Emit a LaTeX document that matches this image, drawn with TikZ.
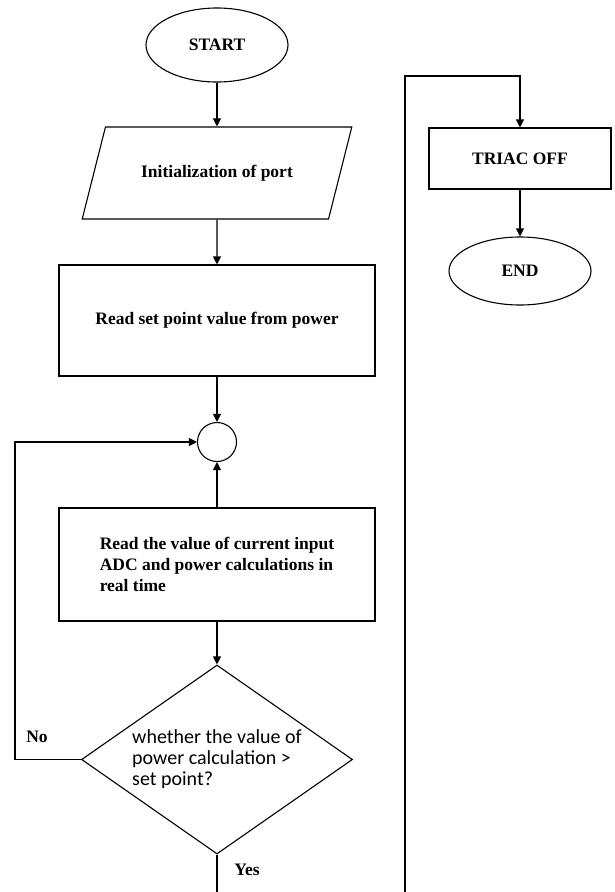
\documentclass[tikz,border=0pt]{standalone}
\usepackage{fontspec}
\setmainfont{Liberation Serif}
\newfontfamily\calibfont{Carlito}
\usepackage{tikz}
\usetikzlibrary{positioning, arrows.meta, shapes.geometric}

\tikzset{
  flowline/.style={line width=1.1pt, -{Triangle[length=8pt, width=8pt]}},
  plainline/.style={line width=1.1pt},
  boldtxt/.style={font=\fontsize{17.5}{21}\selectfont\bfseries},
  terminal/.style={ellipse, draw, line width=1.1pt, boldtxt},
  procbox/.style={rectangle, draw, line width=1.1pt, boldtxt},
}

\begin{document}
\begin{tikzpicture}[x=1pt, y=-1pt]
  \useasboundingbox (0,0) rectangle (615,892);

  % main column
  \node[terminal, minimum width=142pt, minimum height=74pt] (start) at (217,45) {START};
  \node[trapezium, trapezium left angle=54, trapezium right angle=126,
        trapezium stretches=true, draw, line width=1.1pt, boldtxt,
        minimum width=270pt, minimum height=92pt] (init) at (217,173) {Initialization of port};
  \node[procbox, minimum width=316pt, minimum height=111pt] (setpt) at (217,320.5)
    {Read set point value from power};
  \node[circle, draw, line width=1.1pt, minimum size=39pt, inner sep=0pt] (join) at (217,442) {};
  \node[procbox, minimum width=316pt, minimum height=113pt, align=left] (readadc) at (217,564.5)
    {Read the value of current input\\ADC and power calculations in\\real time};
  \node[diamond, aspect=1.43, draw, line width=1.1pt, inner sep=0pt, align=left,
        minimum width=271pt, minimum height=189pt,
        font=\calibfont\fontsize{20}{21}\selectfont] (check) at (217,759.5)
    {whether the value of\\power calculation >\\set point?};

  % right column
  \node[procbox, minimum width=182pt, minimum height=61pt] (triac) at (520,158.5) {TRIAC OFF};
  \node[terminal, minimum width=142pt, minimum height=68pt] (end) at (520,271) {END};

  % labels
  \node[boldtxt] (nolbl) at (37,737) {No};
  \node[boldtxt] (yeslbl) at (247,870) {Yes};

  \coordinate (loopx) at (15,0);
  \coordinate (yesend) at (217,892);
  \coordinate (backend) at (405,892);
  \coordinate (backtop) at (405,76);

  \draw[flowline] (start) -- (init);
  \draw[flowline] (init) -- (setpt);
  \draw[flowline] (setpt) -- (join);
  \draw[flowline] (readadc) -- (join);
  \draw[flowline] (readadc) -- (check);
  \draw[flowline] (check.west) -- (check.west -| loopx) |- (join.west);
  \draw[plainline] (check.south) -- (yesend);
  \draw[flowline] (backend) -- (backtop) -| (triac.north);
  \draw[flowline] (triac) -- (end);
\end{tikzpicture}
\end{document}
